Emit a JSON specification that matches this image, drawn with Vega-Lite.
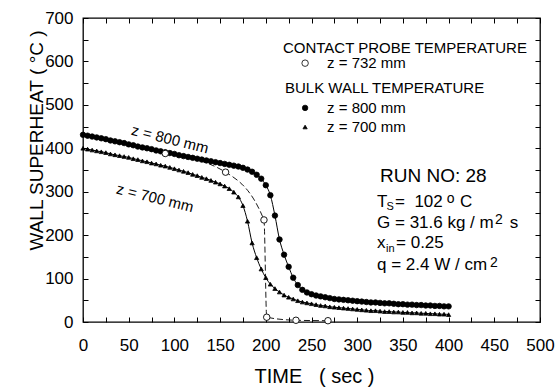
{
  "$schema": "https://vega.github.io/schema/vega-lite/v6.json",
  "width": 457,
  "height": 304,
  "autosize": {"type": "none"},
  "padding": {"left": 83, "top": 18, "right": 20, "bottom": 66},
  "background": "white",
  "datasets": {
    "bulk": [
      {"t":0,"v":431,"s":"z800"},{"t":5,"v":429,"s":"z800"},{"t":10,"v":427,"s":"z800"},{"t":15,"v":425,"s":"z800"},{"t":20,"v":423,"s":"z800"},{"t":25,"v":421,"s":"z800"},{"t":30,"v":418,"s":"z800"},{"t":35,"v":416,"s":"z800"},{"t":40,"v":414,"s":"z800"},{"t":45,"v":412,"s":"z800"},{"t":50,"v":409,"s":"z800"},{"t":55,"v":407,"s":"z800"},{"t":60,"v":404,"s":"z800"},{"t":65,"v":402,"s":"z800"},{"t":70,"v":400,"s":"z800"},{"t":75,"v":398,"s":"z800"},{"t":80,"v":395,"s":"z800"},{"t":85,"v":393,"s":"z800"},{"t":90,"v":391,"s":"z800"},{"t":95,"v":389,"s":"z800"},{"t":100,"v":387,"s":"z800"},{"t":105,"v":384,"s":"z800"},{"t":110,"v":382,"s":"z800"},{"t":115,"v":380,"s":"z800"},{"t":120,"v":378,"s":"z800"},{"t":125,"v":376,"s":"z800"},{"t":130,"v":374,"s":"z800"},{"t":135,"v":372,"s":"z800"},{"t":140,"v":370,"s":"z800"},{"t":145,"v":368,"s":"z800"},{"t":150,"v":366,"s":"z800"},{"t":155,"v":364,"s":"z800"},{"t":160,"v":362,"s":"z800"},{"t":165,"v":360,"s":"z800"},{"t":170,"v":358,"s":"z800"},{"t":175,"v":355,"s":"z800"},{"t":180,"v":351,"s":"z800"},{"t":185,"v":346,"s":"z800"},{"t":190,"v":339,"s":"z800"},{"t":195,"v":330,"s":"z800"},{"t":200,"v":315,"s":"z800"},{"t":205,"v":292,"s":"z800"},{"t":210,"v":245,"s":"z800"},{"t":215,"v":190,"s":"z800"},{"t":220,"v":155,"s":"z800"},{"t":225,"v":127,"s":"z800"},{"t":230,"v":102,"s":"z800"},{"t":235,"v":85,"s":"z800"},{"t":240,"v":74,"s":"z800"},{"t":245,"v":68,"s":"z800"},{"t":250,"v":64,"s":"z800"},{"t":255,"v":61,"s":"z800"},{"t":260,"v":59,"s":"z800"},{"t":265,"v":57,"s":"z800"},{"t":270,"v":55,"s":"z800"},{"t":275,"v":53,"s":"z800"},{"t":280,"v":52,"s":"z800"},{"t":285,"v":51,"s":"z800"},{"t":290,"v":50,"s":"z800"},{"t":295,"v":49,"s":"z800"},{"t":300,"v":48,"s":"z800"},{"t":305,"v":47,"s":"z800"},{"t":310,"v":46,"s":"z800"},{"t":315,"v":45,"s":"z800"},{"t":320,"v":45,"s":"z800"},{"t":325,"v":44,"s":"z800"},{"t":330,"v":43,"s":"z800"},{"t":335,"v":43,"s":"z800"},{"t":340,"v":42,"s":"z800"},{"t":345,"v":41,"s":"z800"},{"t":350,"v":41,"s":"z800"},{"t":355,"v":40,"s":"z800"},{"t":360,"v":40,"s":"z800"},{"t":365,"v":39,"s":"z800"},{"t":370,"v":39,"s":"z800"},{"t":375,"v":38,"s":"z800"},{"t":380,"v":38,"s":"z800"},{"t":385,"v":37,"s":"z800"},{"t":390,"v":37,"s":"z800"},{"t":395,"v":36,"s":"z800"},{"t":400,"v":36,"s":"z800"},
      {"t":0,"v":400,"s":"z700"},{"t":5,"v":398,"s":"z700"},{"t":10,"v":396,"s":"z700"},{"t":15,"v":394,"s":"z700"},{"t":20,"v":392,"s":"z700"},{"t":25,"v":390,"s":"z700"},{"t":30,"v":387,"s":"z700"},{"t":35,"v":385,"s":"z700"},{"t":40,"v":383,"s":"z700"},{"t":45,"v":381,"s":"z700"},{"t":50,"v":379,"s":"z700"},{"t":55,"v":376,"s":"z700"},{"t":60,"v":374,"s":"z700"},{"t":65,"v":371,"s":"z700"},{"t":70,"v":369,"s":"z700"},{"t":75,"v":366,"s":"z700"},{"t":80,"v":364,"s":"z700"},{"t":85,"v":361,"s":"z700"},{"t":90,"v":359,"s":"z700"},{"t":95,"v":356,"s":"z700"},{"t":100,"v":353,"s":"z700"},{"t":105,"v":350,"s":"z700"},{"t":110,"v":347,"s":"z700"},{"t":115,"v":344,"s":"z700"},{"t":120,"v":340,"s":"z700"},{"t":125,"v":337,"s":"z700"},{"t":130,"v":333,"s":"z700"},{"t":135,"v":330,"s":"z700"},{"t":140,"v":326,"s":"z700"},{"t":145,"v":322,"s":"z700"},{"t":150,"v":318,"s":"z700"},{"t":155,"v":313,"s":"z700"},{"t":160,"v":307,"s":"z700"},{"t":165,"v":299,"s":"z700"},{"t":170,"v":288,"s":"z700"},{"t":175,"v":268,"s":"z700"},{"t":180,"v":232,"s":"z700"},{"t":185,"v":182,"s":"z700"},{"t":190,"v":148,"s":"z700"},{"t":195,"v":122,"s":"z700"},{"t":200,"v":102,"s":"z700"},{"t":205,"v":87,"s":"z700"},{"t":210,"v":77,"s":"z700"},{"t":215,"v":69,"s":"z700"},{"t":220,"v":62,"s":"z700"},{"t":225,"v":57,"s":"z700"},{"t":230,"v":53,"s":"z700"},{"t":235,"v":49,"s":"z700"},{"t":240,"v":46,"s":"z700"},{"t":245,"v":44,"s":"z700"},{"t":250,"v":42,"s":"z700"},{"t":255,"v":40,"s":"z700"},{"t":260,"v":38,"s":"z700"},{"t":265,"v":37,"s":"z700"},{"t":270,"v":35,"s":"z700"},{"t":275,"v":34,"s":"z700"},{"t":280,"v":33,"s":"z700"},{"t":285,"v":32,"s":"z700"},{"t":290,"v":31,"s":"z700"},{"t":295,"v":30,"s":"z700"},{"t":300,"v":29,"s":"z700"},{"t":305,"v":28,"s":"z700"},{"t":310,"v":27,"s":"z700"},{"t":315,"v":26,"s":"z700"},{"t":320,"v":26,"s":"z700"},{"t":325,"v":25,"s":"z700"},{"t":330,"v":24,"s":"z700"},{"t":335,"v":24,"s":"z700"},{"t":340,"v":23,"s":"z700"},{"t":345,"v":23,"s":"z700"},{"t":350,"v":22,"s":"z700"},{"t":355,"v":22,"s":"z700"},{"t":360,"v":21,"s":"z700"},{"t":365,"v":21,"s":"z700"},{"t":370,"v":20,"s":"z700"},{"t":375,"v":20,"s":"z700"},{"t":380,"v":19,"s":"z700"},{"t":385,"v":19,"s":"z700"},{"t":390,"v":18,"s":"z700"},{"t":395,"v":18,"s":"z700"},{"t":400,"v":17,"s":"z700"}
    ],
    "probe": [
      {"t":90,"v":388,"s":"probe"},{"t":156,"v":345,"s":"probe"},{"t":198,"v":235,"s":"probe"},{"t":201,"v":11,"s":"probe"},{"t":233,"v":4,"s":"probe"},{"t":268,"v":3,"s":"probe"}
    ],
    "legpts": [
      {"t":243,"v":596,"s":"probe"},{"t":243,"v":493,"s":"z800"},{"t":243,"v":449,"s":"z700"}
    ]
  },
  "layer": [
    {
      "data": {"name": "bulk"},
      "mark": {"type": "line", "color": "black", "strokeWidth": 1, "interpolate": "monotone"},
      "encoding": {
        "x": {"field": "t", "type": "quantitative", "scale": {"domain": [0, 500], "nice": false},
          "axis": {"orient": "bottom", "values": [0,25,50,75,100,125,150,175,200,225,250,275,300,325,350,375,400,425,450,475,500],
            "labelExpr": "datum.value % 50 == 0 ? datum.label : ''", "labelPadding": 20, "labelBaseline": "top",
            "title": "TIME\u00a0\u00a0\u00a0(\u00a0sec\u00a0)", "titleFontSize": 20, "titleX": 231, "titleY": 60, "titleBaseline": "alphabetic", "titleAlign": "center"}},
        "y": {"field": "v", "type": "quantitative", "scale": {"domain": [0, 700], "nice": false},
          "axis": {"orient": "left", "values": [0,50,100,150,200,250,300,350,400,450,500,550,600,650,700],
            "labelExpr": "datum.value % 100 == 0 ? datum.label : ''", "labelPadding": 15,
            "title": "WALL SUPERHEAT\u00a0(\u00a0°C\u00a0)", "titleFontSize": 19, "titleX": -41, "titleY": 122, "titleAngle": -90, "titleBaseline": "alphabetic", "titleAlign": "center"}},
        "detail": {"field": "s"}
      }
    },
    {
      "data": {"name": "probe"},
      "mark": {"type": "line", "color": "black", "strokeWidth": 0.9, "strokeDash": [6, 3], "interpolate": "monotone"},
      "encoding": {
        "x": {"field": "t", "type": "quantitative", "scale": {"domain": [0, 500], "nice": false},
          "axis": {"orient": "top", "values": [0,25,50,75,100,125,150,175,200,225,250,275,300,325,350,375,400,425,450,475,500], "labels": false, "title": null}},
        "y": {"field": "v", "type": "quantitative", "scale": {"domain": [0, 700], "nice": false},
          "axis": {"orient": "right", "values": [0,50,100,150,200,250,300,350,400,450,500,550,600,650,700], "labels": false, "title": null}}
      }
    },
    {
      "data": {"name": "bulk"},
      "mark": {"type": "point", "filled": true, "stroke": "black", "strokeWidth": 0.8, "opacity": 1},
      "encoding": {
        "x": {"field": "t", "type": "quantitative", "scale": {"domain": [0, 500], "nice": false}, "axis": null},
        "y": {"field": "v", "type": "quantitative", "scale": {"domain": [0, 700], "nice": false}, "axis": null},
        "shape": {"field": "s", "type": "nominal", "scale": {"domain": ["probe", "z800", "z700"], "range": ["circle", "circle", "triangle-up"]}, "legend": null},
        "fill": {"field": "s", "type": "nominal", "scale": {"domain": ["probe", "z800", "z700"], "range": ["white", "black", "black"]}, "legend": null},
        "size": {"field": "s", "type": "nominal", "scale": {"domain": ["probe", "z800", "z700"], "range": [42, 18, 20]}, "legend": null}
      }
    },
    {
      "data": {"name": "probe"},
      "mark": {"type": "point", "filled": true, "stroke": "black", "strokeWidth": 0.9, "opacity": 1},
      "encoding": {
        "x": {"field": "t", "type": "quantitative", "scale": {"domain": [0, 500], "nice": false}, "axis": null},
        "y": {"field": "v", "type": "quantitative", "scale": {"domain": [0, 700], "nice": false}, "axis": null},
        "shape": {"field": "s", "type": "nominal", "legend": null},
        "fill": {"field": "s", "type": "nominal", "legend": null},
        "size": {"field": "s", "type": "nominal", "legend": null}
      }
    },
    {
      "data": {"name": "legpts"},
      "mark": {"type": "point", "filled": true, "stroke": "black", "strokeWidth": 0.8, "opacity": 1},
      "encoding": {
        "x": {"field": "t", "type": "quantitative", "scale": {"domain": [0, 500], "nice": false}, "axis": null},
        "y": {"field": "v", "type": "quantitative", "scale": {"domain": [0, 700], "nice": false}, "axis": null},
        "shape": {"field": "s", "type": "nominal", "legend": null},
        "fill": {"field": "s", "type": "nominal", "legend": null},
        "size": {"field": "s", "type": "nominal", "legend": null}
      }
    },
    {
      "data": {"values": [
        {"label": "CONTACT PROBE TEMPERATURE", "t": 218.8, "v": 632},
        {"label": "z = 732 mm", "t": 267, "v": 596},
        {"label": "BULK WALL TEMPERATURE", "t": 221, "v": 539},
        {"label": "z = 800 mm", "t": 267, "v": 493},
        {"label": "z = 700 mm", "t": 267, "v": 449}
      ]},
      "mark": {"type": "text", "align": "left", "baseline": "middle", "fontSize": 15, "color": "black"},
      "encoding": {
        "x": {"field": "t", "type": "quantitative", "scale": {"domain": [0, 500], "nice": false}, "axis": null},
        "y": {"field": "v", "type": "quantitative", "scale": {"domain": [0, 700], "nice": false}, "axis": null},
        "text": {"field": "label"}
      }
    },
    {
      "data": {"values": [{"label": "RUN NO: 28", "t": 325, "v": 337}]},
      "mark": {"type": "text", "align": "left", "baseline": "middle", "fontSize": 19, "color": "black"},
      "encoding": {
        "x": {"field": "t", "type": "quantitative", "scale": {"domain": [0, 500], "nice": false}, "axis": null},
        "y": {"field": "v", "type": "quantitative", "scale": {"domain": [0, 700], "nice": false}, "axis": null},
        "text": {"field": "label"}
      }
    },
    {
      "data": {"values": [
        {"label": "T", "t": 321.7, "v": 265},
        {"label": "=\u00a0\u00a0102", "t": 341.4, "v": 265},
        {"label": "C", "t": 412.5, "v": 265},
        {"label": "G = 31.6 kg / m", "t": 321.7, "v": 216.4},
        {"label": "s", "t": 467, "v": 216.4},
        {"label": "x", "t": 321.7, "v": 169.7},
        {"label": "= 0.25", "t": 342.5, "v": 169.7},
        {"label": "q = 2.4 W / cm", "t": 321.7, "v": 119.7}
      ]},
      "mark": {"type": "text", "align": "left", "baseline": "alphabetic", "fontSize": 17, "color": "black"},
      "encoding": {
        "x": {"field": "t", "type": "quantitative", "scale": {"domain": [0, 500], "nice": false}, "axis": null},
        "y": {"field": "v", "type": "quantitative", "scale": {"domain": [0, 700], "nice": false}, "axis": null},
        "text": {"field": "label"}
      }
    },
    {
      "data": {"values": [
        {"label": "S", "t": 332, "v": 258},
        {"label": "in", "t": 331.5, "v": 162}
      ]},
      "mark": {"type": "text", "align": "left", "baseline": "alphabetic", "fontSize": 11, "color": "black"},
      "encoding": {
        "x": {"field": "t", "type": "quantitative", "scale": {"domain": [0, 500], "nice": false}, "axis": null},
        "y": {"field": "v", "type": "quantitative", "scale": {"domain": [0, 700], "nice": false}, "axis": null},
        "text": {"field": "label"}
      }
    },
    {
      "data": {"values": [
        {"label": "o", "t": 398, "v": 274},
        {"label": "2", "t": 450.8, "v": 225.7},
        {"label": "2", "t": 445.3, "v": 126.6}
      ]},
      "mark": {"type": "text", "align": "left", "baseline": "alphabetic", "fontSize": 14, "color": "black"},
      "encoding": {
        "x": {"field": "t", "type": "quantitative", "scale": {"domain": [0, 500], "nice": false}, "axis": null},
        "y": {"field": "v", "type": "quantitative", "scale": {"domain": [0, 700], "nice": false}, "axis": null},
        "text": {"field": "label"}
      }
    },
    {
      "data": {"values": [
        {"label": "z = 800 mm", "t": 95.2, "v": 421},
        {"label": "z = 700 mm", "t": 78.8, "v": 285.5}
      ]},
      "mark": {"type": "text", "align": "center", "baseline": "middle", "fontSize": 15, "angle": 14, "color": "black"},
      "encoding": {
        "x": {"field": "t", "type": "quantitative", "scale": {"domain": [0, 500], "nice": false}, "axis": null},
        "y": {"field": "v", "type": "quantitative", "scale": {"domain": [0, 700], "nice": false}, "axis": null},
        "text": {"field": "label"}
      }
    }
  ],
  "resolve": {"axis": {"x": "independent", "y": "independent"}},
  "config": {
    "font": "Liberation Sans",
    "view": {"stroke": "black", "strokeWidth": 1.3},
    "text": {"font": "Liberation Sans"},
    "axis": {
      "domain": false, "grid": false, "ticks": true, "tickColor": "black", "tickSize": -5, "tickWidth": 1,
      "labelColor": "black", "labelFontSize": 17, "labelFont": "Liberation Sans", "labelFlush": false, "labelOverlap": false,
      "titleColor": "black", "titleFont": "Liberation Sans", "titleFontWeight": "normal"
    }
  }
}
